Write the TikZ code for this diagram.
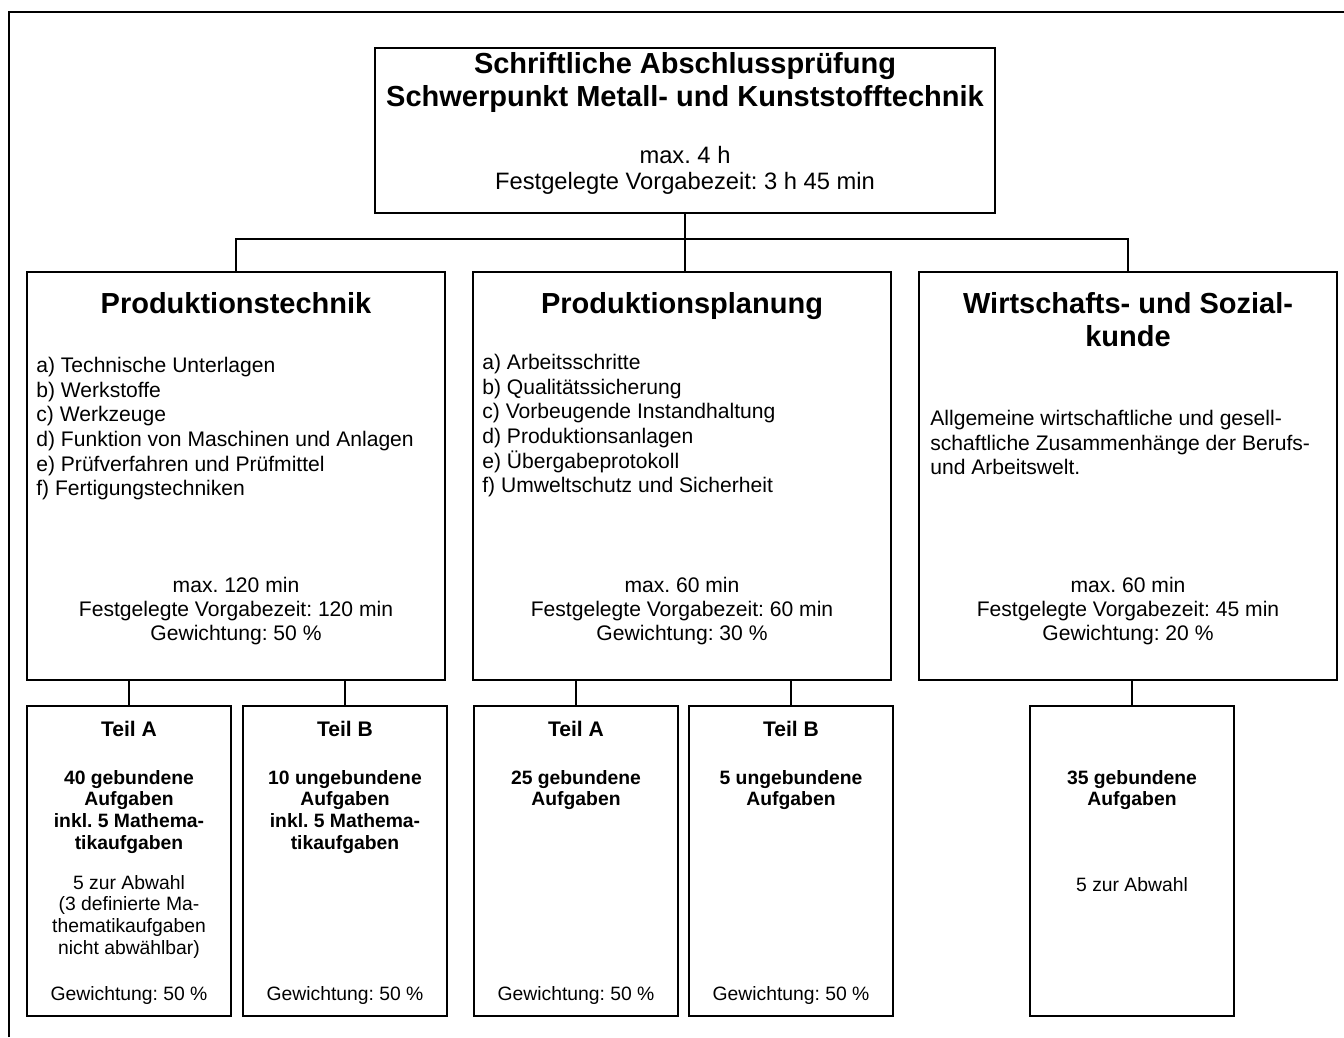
\documentclass[tikz,border=0pt]{standalone}
\usepackage{fontspec}
\setmainfont{Liberation Sans}
\usetikzlibrary{positioning}
\frenchspacing

\begin{document}
\begin{tikzpicture}[x=0.02cm, y=-0.02cm,
        box/.style={draw, line width=1pt, inner sep=0pt},
        mainbox/.style={box, minimum width=8.36cm, minimum height=8.16cm},
        subbox/.style={box, minimum width=4.08cm, minimum height=6.2cm},
        ttl/.style={anchor=north, inner sep=0pt, align=center,
                    font=\fontsize{16.5}{18.7}\selectfont\bfseries},
        info/.style={anchor=north, inner sep=0pt, align=center,
                     font=\fontsize{12}{13.6}\selectfont},
        lst/.style={anchor=north west, inner sep=0pt, align=left,
                    font=\fontsize{12}{14}\selectfont},
        part/.style={anchor=north, inner sep=0pt, align=center,
                     font=\fontsize{12}{14}\selectfont\bfseries},
        task/.style={anchor=north, inner sep=0pt, align=center,
                     font=\fontsize{11}{12.3}\selectfont\bfseries},
        note/.style={anchor=north, inner sep=0pt, align=center,
                     font=\fontsize{11}{12.3}\selectfont},
        lnk/.style={line width=0.8pt},
      ]
        \useasboundingbox (0,0) rectangle (1344,1037);
        \draw[line width=1.2pt] (9,1037) |- (1344,12);

        % top
        \node[box, minimum width=12.4cm, minimum height=3.3cm] (top)
          at (685,130.5) {};
        \node[ttl] (top-t) at (685,52)
          {Schriftliche Abschlussprüfung\\Schwerpunkt Metall- und Kunststofftechnik};
        \node[info, font=\fontsize{13.5}{14.7}\selectfont] (top-i) at (685,146)
          {max. 4 h\\Festgelegte Vorgabezeit: 3 h 45 min};

        % subjects
        \node[mainbox] (pt) at (236,476) {};
        \node[mainbox] (pp) at (682,476) {};
        \node[mainbox] (wk) at (1128,476) {};

        \node[ttl] (pt-t) at (236,292) {Produktionstechnik};
        \node[ttl] (pp-t) at (682,292) {Produktionsplanung};
        \node[ttl] (wk-t) at (1128,292) {Wirtschafts- und Sozial-\\kunde};

        \node[lst] (pt-l) at (36,357)
          {a) Technische Unterlagen\\b) Werkstoffe\\c) Werkzeuge\\
           d) Funktion von Maschinen und Anlagen\\
           e) Prüfverfahren und Prüfmittel\\f) Fertigungstechniken};
        \node[lst] (pp-l) at (482,354)
          {a) Arbeitsschritte\\b) Qualitätssicherung\\
           c) Vorbeugende Instandhaltung\\d) Produktionsanlagen\\
           e) Übergabeprotokoll\\f) Umweltschutz und Sicherheit};
        \node[lst] (wk-l) at (930,410)
          {Allgemeine wirtschaftliche und gesell-\\
           schaftliche Zusammenhänge der Berufs-\\und Arbeitswelt.};

        \node[info] (pt-i) at (236,577)
          {max. 120 min\\Festgelegte Vorgabezeit: 120 min\\Gewichtung: 50 \%};
        \node[info] (pp-i) at (682,577)
          {max. 60 min\\Festgelegte Vorgabezeit: 60 min\\Gewichtung: 30 \%};
        \node[info] (wk-i) at (1128,577)
          {max. 60 min\\Festgelegte Vorgabezeit: 45 min\\Gewichtung: 20 \%};

        % parts
        \node[subbox] (pta) at (129,861) {};
        \node[subbox] (ptb) at (345,861) {};
        \node[subbox] (ppa) at (576,861) {};
        \node[subbox] (ppb) at (791,861) {};
        \node[subbox] (wka) at (1132,861) {};

        \node[part] (pta-t) at (129,721) {Teil A};
        \node[task] (pta-a) at (129,770)
          {40 gebundene\\Aufgaben\\inkl. 5 Mathema-\\tikaufgaben};
        \node[note] (pta-n) at (129,875)
          {5 zur Abwahl\\(3 definierte Ma-\\thematikaufgaben\\nicht abwählbar)};
        \node[note] (pta-g) at (129,986) {Gewichtung: 50 \%};

        \node[part] (ptb-t) at (345,721) {Teil B};
        \node[task] (ptb-a) at (345,770)
          {10 ungebundene\\Aufgaben\\inkl. 5 Mathema-\\tikaufgaben};
        \node[note] (ptb-g) at (345,986) {Gewichtung: 50 \%};

        \node[part] (ppa-t) at (576,721) {Teil A};
        \node[task] (ppa-a) at (576,770) {25 gebundene\\Aufgaben};
        \node[note] (ppa-g) at (576,986) {Gewichtung: 50 \%};

        \node[part] (ppb-t) at (791,721) {Teil B};
        \node[task] (ppb-a) at (791,770) {5 ungebundene\\Aufgaben};
        \node[note] (ppb-g) at (791,986) {Gewichtung: 50 \%};

        \node[task] (wka-a) at (1132,770) {35 gebundene\\Aufgaben};
        \node[note] (wka-n) at (1132,877) {5 zur Abwahl};

        % links
        \draw[lnk] (top.south) -- (top.south |- pp.north);
        \draw[lnk] (pt.north) -- ++(0,-32) -| (wk.north);
        \draw[lnk] (pta.north) -- (pta.north |- pt.south);
        \draw[lnk] (ptb.north) -- (ptb.north |- pt.south);
        \draw[lnk] (ppa.north) -- (ppa.north |- pp.south);
        \draw[lnk] (ppb.north) -- (ppb.north |- pp.south);
        \draw[lnk] (wka.north) -- (wka.north |- wk.south);
      \end{tikzpicture}
\end{document}
